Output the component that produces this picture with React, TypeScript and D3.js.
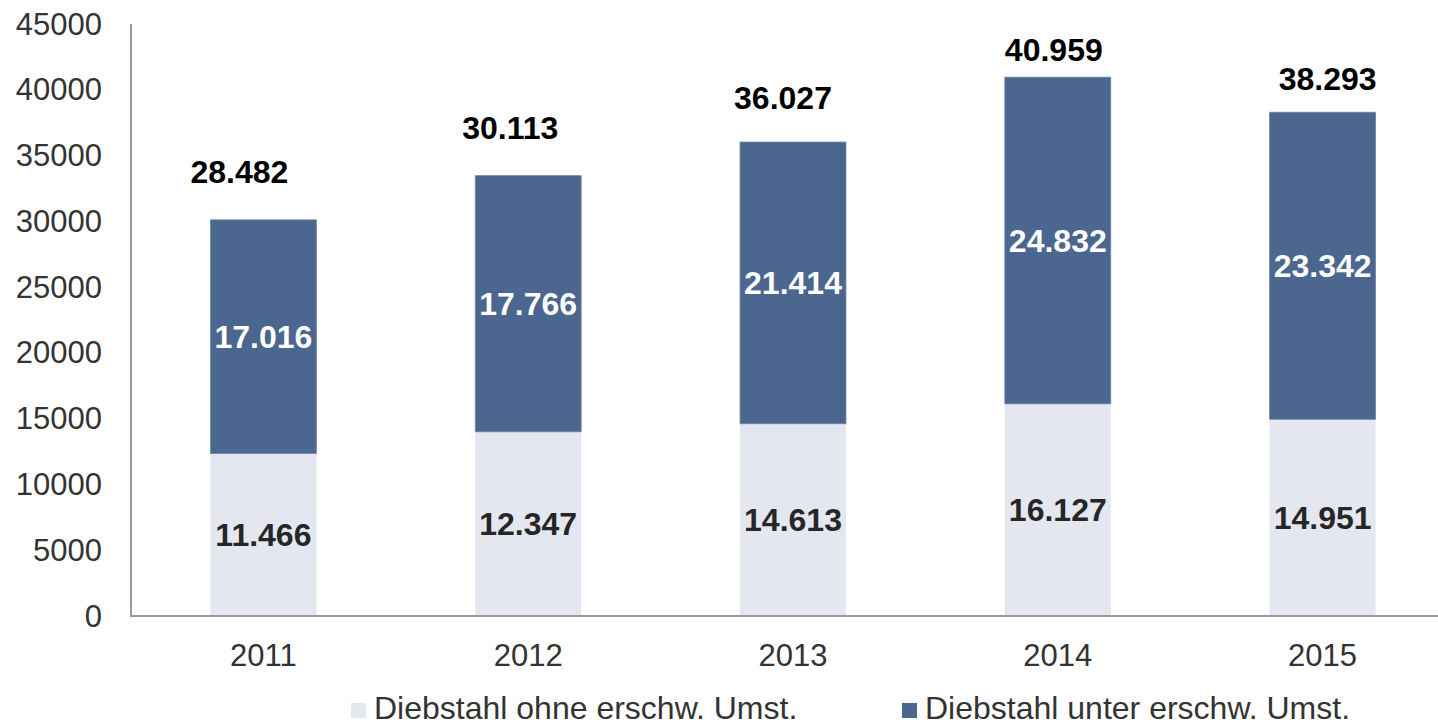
import React from "react";
import * as d3 from "d3";

const years = ["2011", "2012", "2013", "2014", "2015"];
// bar heights as drawn in the picture
const ohneValues = [12347, 14000, 14613, 16127, 14951];
const unterValues = [17766, 19470, 21414, 24832, 23342];
// printed labels
const ohneLabels = ["11.466", "12.347", "14.613", "16.127", "14.951"];
const unterLabels = ["17.016", "17.766", "21.414", "24.832", "23.342"];
const totalLabels = ["28.482", "30.113", "36.027", "40.959", "38.293"];
const yTicks = [0, 5000, 10000, 15000, 20000, 25000, 30000, 35000, 40000, 45000];
const seriesNames = ["Diebstahl ohne erschw. Umst.", "Diebstahl unter erschw. Umst."];

// layout: manually placed total labels (offset from bar top centre, px)
const totalLabelDx = [-24, -18, -10, -4, 5];
const totalLabelDy = [-48, -48, -44, -27, -33];

const W = 1438;
const H = 725;
const LIGHT = "#E4E7EF";
const DARK = "#4B668F";
const FONT = "'Liberation Sans', Arial, sans-serif";

export default function App() {
  const x = d3.scaleBand<string>().domain(years).range([131, 1455]).paddingInner(0.6).paddingOuter(0.3);
  const y = d3.scaleLinear().domain([0, 45000]).range([616, 24]);
  const stackData = years.map((yr, i) => ({ year: yr, ohne: ohneValues[i], unter: unterValues[i] }));
  const stack = d3.stack<any>().keys(["ohne", "unter"])(stackData);
  const bw = x.bandwidth();

  return (
    <svg width={W} height={H} style={{ position: "absolute", left: 0, top: 0, background: "#fff" }} fontFamily={FONT}>
      {/* bars */}
      {stack.map((layer, li) =>
        layer.map((d, i) => (
          <rect
            key={`${li}-${i}`}
            x={x(years[i])}
            y={y(d[1])}
            width={bw}
            height={y(d[0]) - y(d[1])}
            fill={li === 0 ? LIGHT : DARK}
            stroke={li === 0 ? "none" : "#6C84AA"}
            strokeWidth={li === 0 ? 0 : 0.8}
          />
        ))
      )}
      {/* axes */}
      <line x1={131} x2={131} y1={y(45000)} y2={y(0)} stroke="#9A9A9A" strokeWidth={2} />
      <line x1={130} x2={W} y1={y(0)} y2={y(0)} stroke="#9A9A9A" strokeWidth={2} />
      {yTicks.map((t) => (
        <text key={t} x={102} y={y(t)} textAnchor="end" dominantBaseline="central" fontSize={31} fill="#333">
          {t}
        </text>
      ))}
      {years.map((yr) => (
        <text key={yr} x={(x(yr) as number) + bw / 2} y={655} textAnchor="middle" dominantBaseline="central" fontSize={31} fill="#333">
          {yr}
        </text>
      ))}
      {/* labels */}
      {years.map((yr, i) => {
        const cx = (x(yr) as number) + bw / 2;
        const s0 = stack[0][i];
        const s1 = stack[1][i];
        return (
          <g key={`lbl-${yr}`} fontWeight="bold" fontSize={32} textAnchor="middle">
            <text x={cx} y={(y(s0[0]) + y(s0[1])) / 2} dominantBaseline="central" fill="#262626">
              {ohneLabels[i]}
            </text>
            <text x={cx} y={(y(s1[0]) + y(s1[1])) / 2} dominantBaseline="central" fill="#fff">
              {unterLabels[i]}
            </text>
            <text x={cx + totalLabelDx[i]} y={y(s1[1]) + totalLabelDy[i]} dominantBaseline="central" fill="#000">
              {totalLabels[i]}
            </text>
          </g>
        );
      })}
      {/* legend */}
      {seriesNames.map((name, i) => {
        const lx = i === 0 ? 351 : 902;
        return (
          <g key={name}>
            <rect x={lx} y={703} width={15} height={15} fill={i === 0 ? LIGHT : DARK} />
            <text x={lx + 23} y={708} dominantBaseline="central" fontSize={32} fill="#333">
              {name}
            </text>
          </g>
        );
      })}
    </svg>
  );
}
